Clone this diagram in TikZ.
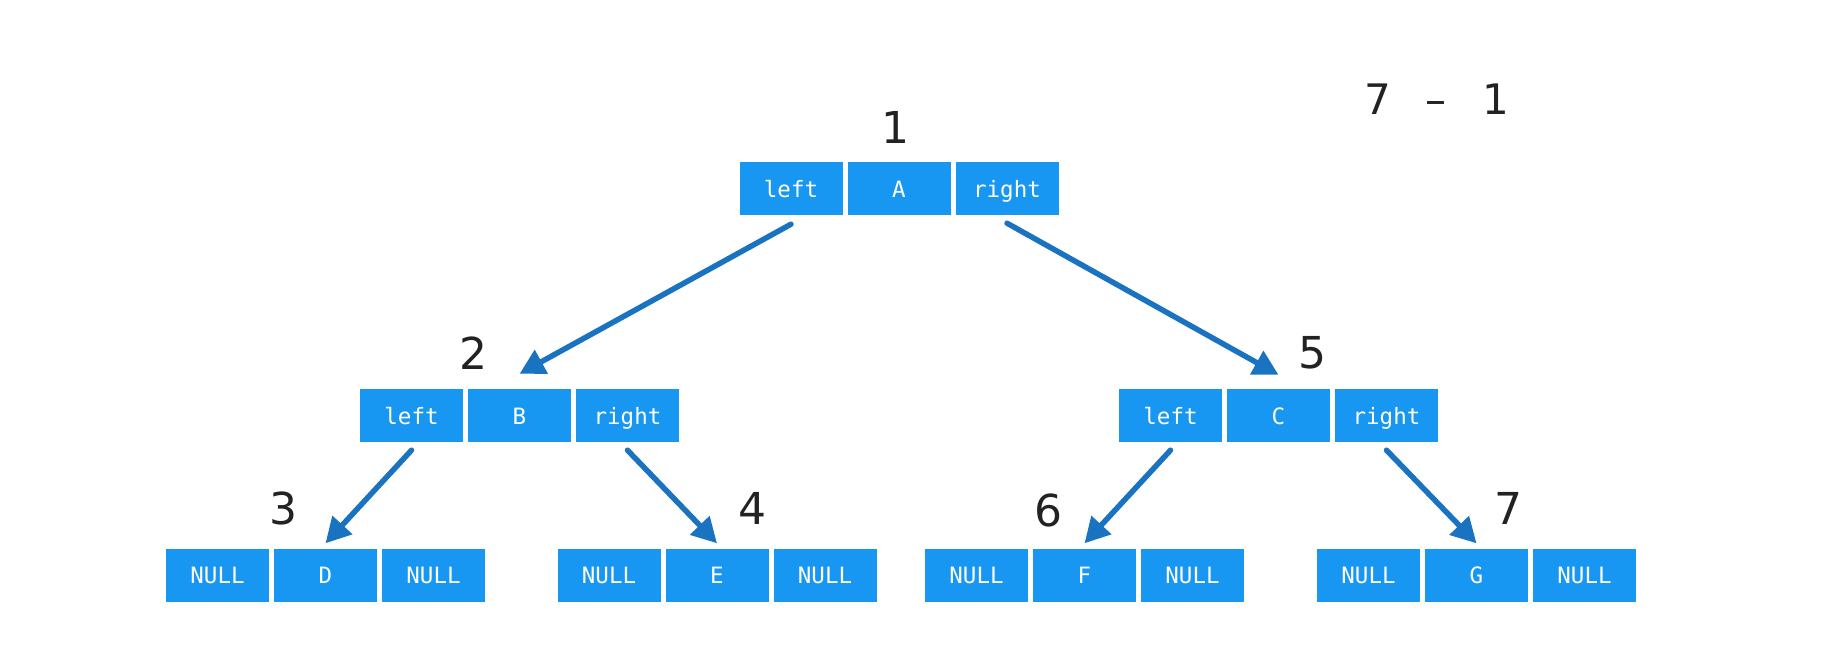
\documentclass[tikz,border=0pt]{standalone}
\usepackage{fontspec}
\setmonofont{DejaVu Sans Mono}
\newfontfamily\numfont{DejaVu Sans}
\usetikzlibrary{arrows.meta}
\definecolor{cellblue}{RGB}{24,151,242}
\definecolor{linkblue}{RGB}{26,115,192}
\definecolor{labelgray}{RGB}{34,34,34}
\tikzset{
  cell/.style={fill=cellblue, text=white, minimum width=103pt, minimum height=53pt,
    inner sep=0pt, font=\ttfamily\fontsize{22.5}{22.5}\selectfont,
    text height=17pt, text depth=0pt},
  link/.style={draw=linkblue, line width=5.5pt, line cap=round,
    -{Triangle[length=25pt,width=26pt]}},
  idx/.style={text=labelgray, inner sep=0pt, font=\numfont\fontsize{44}{44}\selectfont},
}
% one tree node: left pointer, value, right pointer
\newcommand\treecell[6]{%
  \node[cell] (#1) at (#2,#3) {#5};
  \node[cell] (#1l) at (#2-108,#3) {#4};
  \node[cell] (#1r) at (#2+108,#3) {#6};
}
\begin{document}
\begin{tikzpicture}[x=1pt,y=-1pt]
  \useasboundingbox (0,0) rectangle (1833,651);

  \treecell{A}{899}{188.5}{left}{A}{right}
  \treecell{B}{519.5}{415.5}{left}{B}{right}
  \treecell{C}{1278.5}{415.5}{left}{C}{right}
  \treecell{D}{325.5}{575}{NULL}{D}{NULL}
  \treecell{E}{717}{575}{NULL}{E}{NULL}
  \treecell{F}{1084.5}{575}{NULL}{F}{NULL}
  \treecell{G}{1476.5}{575}{NULL}{G}{NULL}

  % visiting order
  \node[idx] (n1) at (895,127) {1};
  \node[idx] (n2) at (473,353) {2};
  \node[idx] (n3) at (283,508) {3};
  \node[idx] (n4) at (752,508) {4};
  \node[idx] (n5) at (1312,353) {5};
  \node[idx] (n6) at (1048,510) {6};
  \node[idx] (n7) at (1508,508) {7};
  \node[idx, font=\numfont\fontsize{42}{42}\selectfont] (count) at (1437,99)
    {7\hspace{34pt}–\hspace{36pt}1};

  % child pointers
  \draw[link] ([yshift=-9pt]Al.south) -- ([yshift=15pt]B.north);
  \draw[link] ([yshift=-8pt]Ar.south) -- ([yshift=14pt]C.north);
  \draw[link] ([yshift=-8pt]Bl.south) -- ([yshift=5pt]D.north);
  \draw[link] ([yshift=-8pt]Br.south) -- ([yshift=5pt]E.north);
  \draw[link] ([yshift=-8pt]Cl.south) -- ([yshift=5pt]F.north);
  \draw[link] ([yshift=-8pt]Cr.south) -- ([yshift=5pt]G.north);
\end{tikzpicture}
\end{document}
